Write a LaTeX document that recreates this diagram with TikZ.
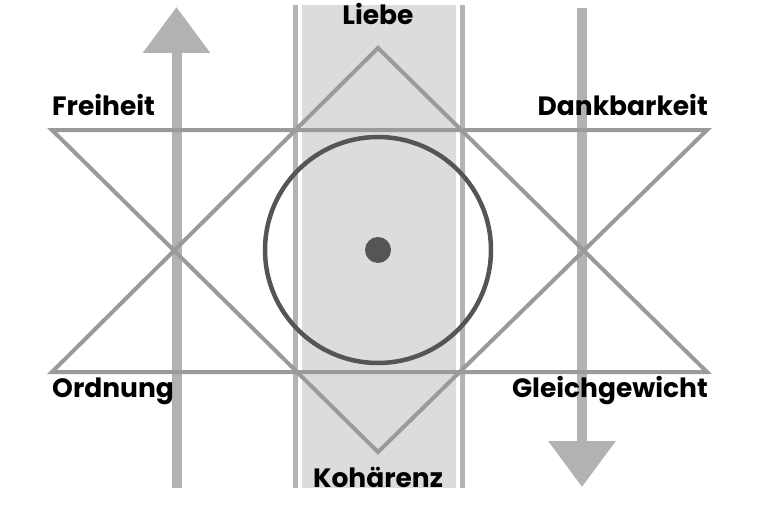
\documentclass[tikz,border=0pt]{standalone}
\usepackage{fontspec}
\setmainfont{Poppins}
\usetikzlibrary{arrows.meta}
\definecolor{bandfill}{HTML}{DCDCDD}
\definecolor{bandline}{HTML}{B4B4B4}
\definecolor{starline}{HTML}{9A9A9A}
\definecolor{arrowgrey}{HTML}{B2B2B2}
\definecolor{ringgrey}{HTML}{555555}
\tikzset{
	label text/.style={font=\fontsize{26.5}{26.5}\selectfont\bfseries, inner sep=0pt},
	star line/.style={draw=starline, line width=4pt},
	flow arrow/.style={draw=arrowgrey, line width=10pt, -{Triangle[width=65pt,length=46pt]}}
}
\begin{document}
\begin{tikzpicture}[x=1pt, y=-1pt]
	\useasboundingbox (0, 0) rectangle (762, 508);

	% band
	\fill [bandfill] (302, 5) rectangle (456, 488);
	\draw [bandline, line width=5pt] (295.5, 5) -- (295.5, 488);
	\draw [bandline, line width=5pt] (462.5, 5) -- (462.5, 488);

	% arrows
	\coordinate (upstart) at (176.5, 488);
	\coordinate (upend) at (176.5, 7);
	\coordinate (downstart) at (582, 8);
	\coordinate (downend) at (582, 487);
	\draw [flow arrow] (upstart) -- (upend);
	\draw [flow arrow] (downstart) -- (downend);

	% star
	\coordinate (top) at (378, 48);
	\coordinate (bottom) at (378, 452);
	\coordinate (tl) at (52, 130);
	\coordinate (tr) at (707, 130);
	\coordinate (bl) at (52, 372);
	\coordinate (br) at (707, 372);
	\draw [star line, line join=miter] (top) -- (bl) -- (br) -- cycle;
	\draw [star line, line join=miter] (bottom) -- (tl) -- (tr) -- cycle;

	% ring and dot
	\coordinate (centre) at (378, 250);
	\draw [ringgrey, line width=4.5pt] (centre) circle[radius=113];
	\fill [ringgrey] (centre) circle[radius=13];

	\node [label text, anchor=base] (liebe) at (378, 25) {Liebe};
	\node [label text, anchor=base west] (freiheit) at (52, 115) {Freiheit};
	\node [label text, anchor=base east] (dank) at (708, 115) {Dankbarkeit};
	\node [label text, anchor=base west] (ordnung) at (52, 397) {Ordnung};
	\node [label text, anchor=base east] (gleich) at (708, 397) {Gleichgewicht};
	\node [label text, anchor=base] (koh) at (378, 487) {Kohärenz};
\end{tikzpicture}
\end{document}
